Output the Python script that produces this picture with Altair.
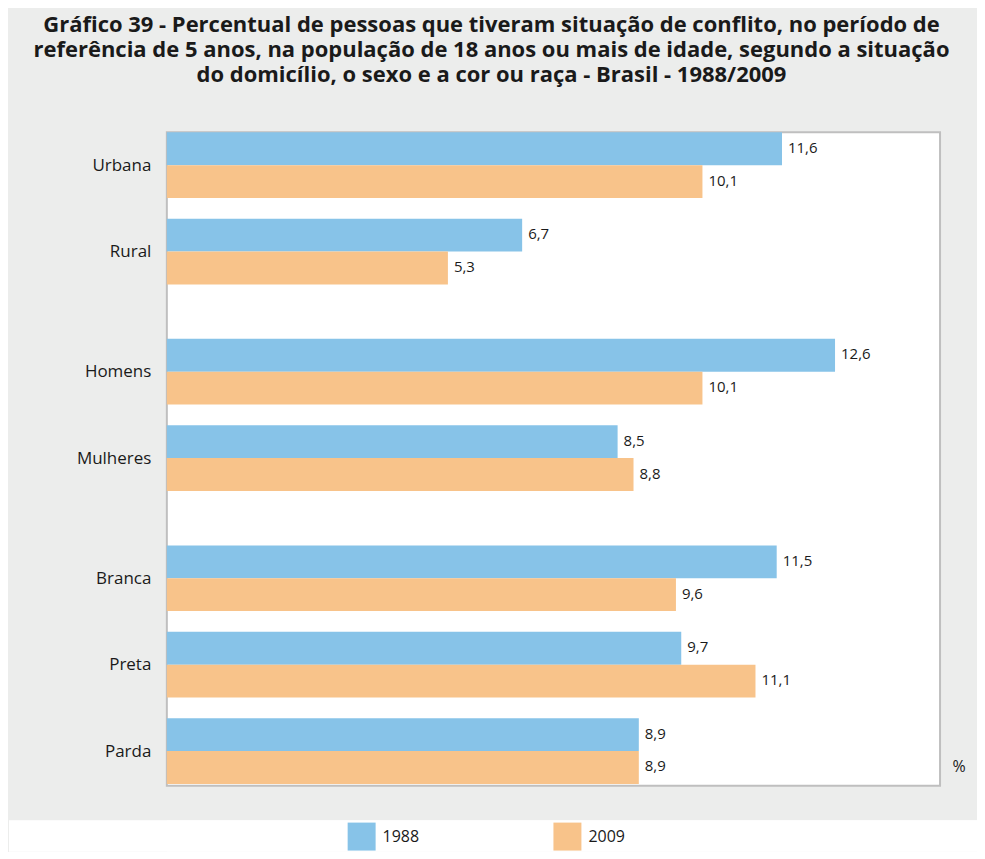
import altair as alt
import pandas as pd

categories = ["Urbana", "Rural", "Homens", "Mulheres", "Branca", "Preta", "Parda"]
groups = [0, 0, 1, 1, 2, 2, 2]
years = ["1988", "2009"]
v1988 = [11.6, 6.7, 12.6, 8.5, 11.5, 9.7, 8.9]
v2009 = [10.1, 5.3, 10.1, 8.8, 9.6, 11.1, 8.9]
colors = ["#87C3E8", "#F8C38A"]

title_lines = [
    "Gráfico 39 - Percentual de pessoas que tiveram situação de conflito, no período de",
    "referência de 5 anos, na população de 18 anos ou mais de idade, segundo a situação",
    "do domicílio, o sexo e a cor ou raça - Brasil - 1988/2009",
]

GAP = 0.39
HALF = 0.38
positions = [i + GAP * g for i, g in enumerate(groups)]

rows = []
for c, p, a, b in zip(categories, positions, v1988, v2009):
    rows.append({"cat": c, "year": "1988", "value": a, "pos": p, "side": -1})
    rows.append({"cat": c, "year": "2009", "value": b, "pos": p, "side": 1})
df = pd.DataFrame(rows)

FONT = "Open Sans"

xscale = alt.Scale(domain=[0, 14.58], nice=False, zero=True)
yscale = alt.Scale(domain=[-0.38, 7.18], reverse=True, nice=False, zero=False)

label_expr = "[" + ",".join(f"'{c}'" for c in categories) + "][indexof([" + ",".join(
    repr(p) for p in positions) + "], datum.value)]"

base = alt.Chart(df).transform_calculate(
    y0=f"datum.pos + (datum.side < 0 ? -{HALF} : 0)",
    y1=f"datum.pos + (datum.side < 0 ? 0 : {HALF})",
    ymid=f"datum.pos + datum.side * {HALF / 2}",
    zero="0",
    label="replace(format(datum.value, '.1f'), '.', ',')",
)

bars = base.mark_rect().encode(
    x=alt.X("value:Q", scale=xscale,
            axis=alt.Axis(labels=False, ticks=False, domain=False, grid=False,
                          title="%", titleFont=FONT, titleFontSize=16,
                          titleFontWeight="normal", titleColor="#1a1a1a",
                          titleX=786, titleY=-19, titleAlign="left",
                          titleBaseline="middle", titleAngle=0)),
    x2="zero:Q",
    y=alt.Y("y0:Q", scale=yscale,
            axis=alt.Axis(values=positions, labelExpr=label_expr, ticks=False,
                          domain=False, grid=False, title=None, labelFont=FONT,
                          labelFontSize=17, labelColor="#1a1a1a", labelPadding=16,
                          minExtent=158, maxExtent=158)),
    y2="y1:Q",
    color=alt.Color("year:N", scale=alt.Scale(domain=years, range=colors), legend=None),
)

texts = base.mark_text(align="left", baseline="middle", dx=6, dy=-1, font=FONT,
                       fontSize=15, color="#1a1a1a").encode(
    x=alt.X("value:Q", scale=xscale),
    y=alt.Y("ymid:Q", scale=yscale),
    text="label:N",
)

main = alt.layer(bars, texts).properties(
    width=774, height=654,
    view=alt.ViewBackground(fill="white", stroke="#BFBFBF", strokeWidth=2),
)

legend_df = pd.DataFrame({"year": years})
strip = alt.Chart(legend_df).mark_rect(color="white").encode(
    x=alt.value(-158), x2=alt.value(811), y=alt.value(0), y2=alt.value(31),
)
legend_marks = alt.Chart(legend_df).mark_square(opacity=0).encode(
    color=alt.Color("year:N", scale=alt.Scale(domain=years, range=colors),
                    legend=alt.Legend(orient="none", legendX=181, legendY=2,
                                      direction="horizontal", title=None,
                                      symbolType="square", symbolSize=784,
                                      symbolOpacity=1, symbolStrokeWidth=0,
                                      labelFont=FONT, labelFontSize=16,
                                      labelColor="#1a1a1a", labelOffset=7,
                                      columnPadding=134, padding=0)),
)
legend_chart = alt.layer(strip, legend_marks).properties(
    width=811, height=31,
    view=alt.ViewBackground(fill="white", strokeWidth=0),
)

chart = alt.vconcat(main, legend_chart, spacing=34).resolve_scale(
    color="independent").resolve_legend(color="independent").properties(
    title=alt.TitleParams(text=title_lines, font=FONT, fontSize=22, fontWeight="bold",
                          color="#1a1a1a", lineHeight=25, anchor="middle", dx=-1,
                          offset=44),
    background="#ECEDEC",
    padding={"left": 0, "top": 6, "right": 0, "bottom": 0},
)

chart.save("out.html", embed_options={"renderer": "svg", "actions": False})
